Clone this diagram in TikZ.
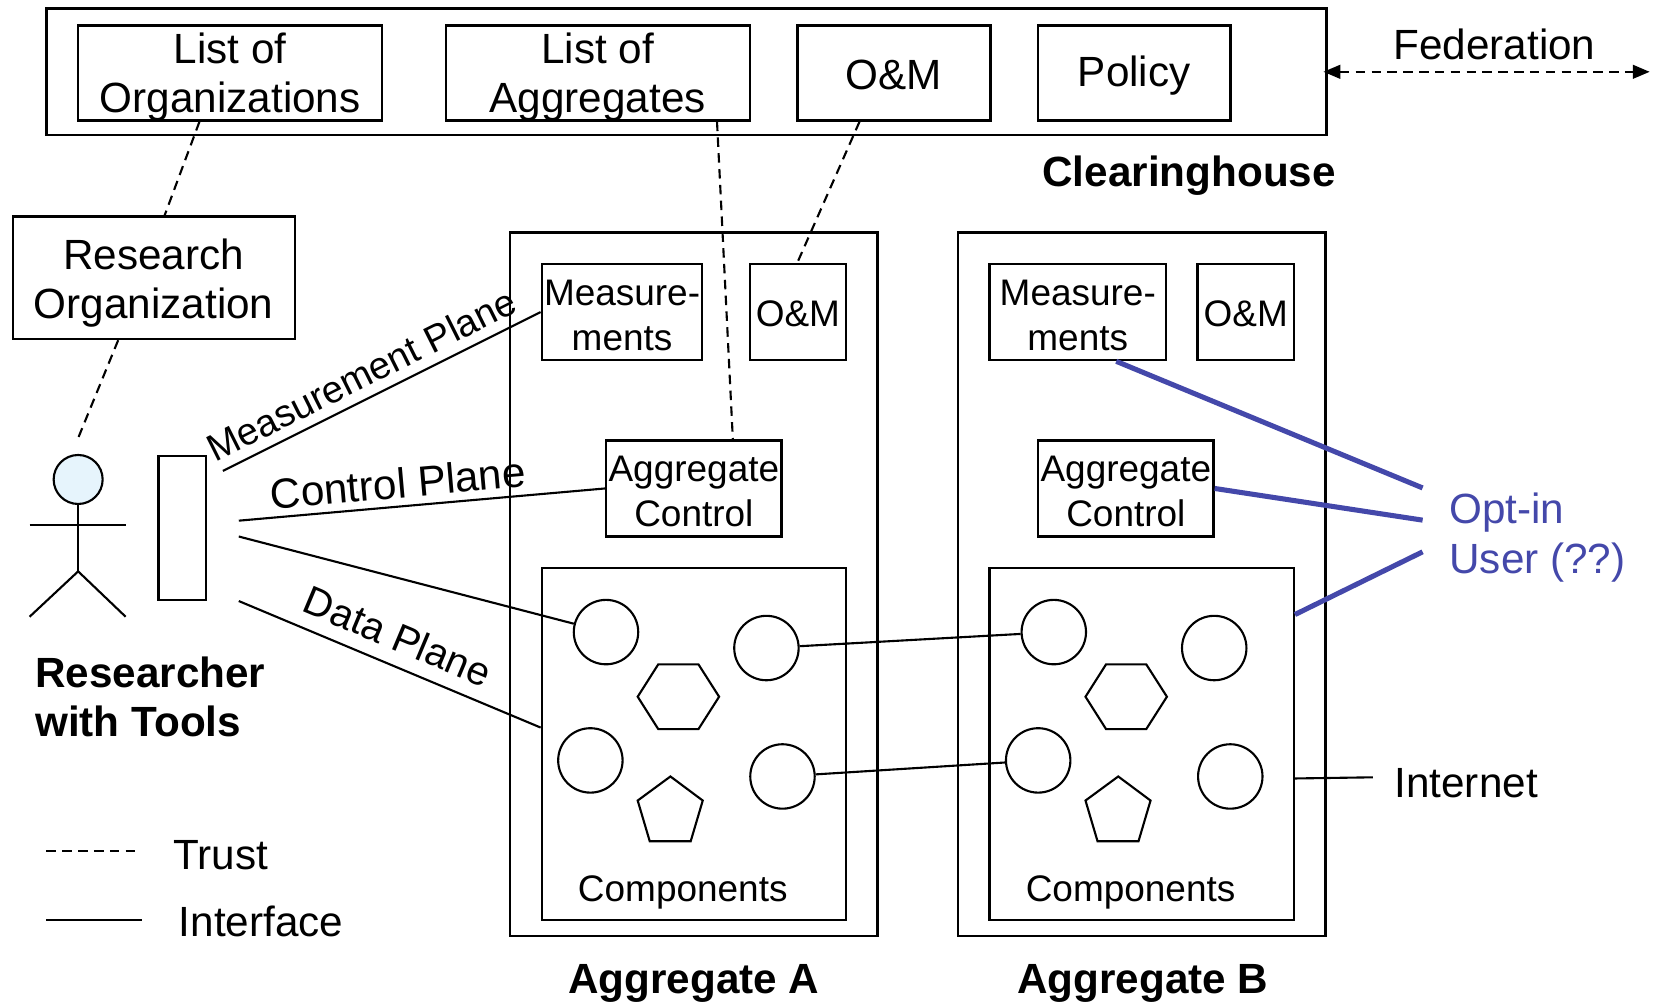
\documentclass[tikz,border=0pt]{standalone}
\usepackage{fontspec}
\setmainfont{Liberation Sans}
\usetikzlibrary{fit,calc,arrows.meta}
\definecolor{optblue}{RGB}{68,72,170}
\definecolor{headblue}{RGB}{230,244,252}
\begin{document}
\begin{tikzpicture}[x=0.5pt,y=-0.5pt,
  bigfont/.style={font=\fontsize{20}{23.5}\selectfont},
  smallfont/.style={font=\fontsize{17.5}{21.5}\selectfont},
  boldlabel/.style={font=\fontsize{20}{23.5}\selectfont\bfseries},
  planefont/.style={font=\fontsize{18}{22}\selectfont},
  box/.style={draw, line width=1.1pt, inner sep=0pt},
  txt/.style={inner sep=0pt, align=center},
  trust/.style={line width=1pt, dash pattern=on 4.5pt off 3pt},
  iface/.style={line width=1pt},
  optline/.style={line width=2.4pt, draw=optblue},
  comp/.style={circle, draw, line width=1pt, minimum size=30.5pt, inner sep=0pt},
  shapeline/.style={line width=1pt, line join=miter},
  fedarrow/.style={line width=1pt, dash pattern=on 4.5pt off 3pt, <->,
     >={Stealth[length=8pt,width=6.5pt,inset=0pt]}}
]
\useasboundingbox (0,0) rectangle (1568,952);

% Clearinghouse
\node[box,fit={(44,8) (1256,128)}] (clear) {};
\node[box,fit={(74,24) (362,114)}] (lorg) {};
\node[txt,bigfont] (lorgtxt) at ($(lorg.center)+(0,4)$) {List of\\Organizations};
\node[box,fit={(422,24) (710,114)}] (lagg) {};
\node[txt,bigfont] (laggtxt) at ($(lagg.center)+(0,4)$) {List of\\Aggregates};
\node[box,fit={(755,24) (938,114)}] (omtop) {};
\node[txt,bigfont] (omtoptxt) at ($(omtop.center)+(0,2)$) {O\&M};
\node[box,fit={(983,24) (1165,114)}] (policy) {};
\node[txt,bigfont] (policytxt) at ($(policy.center)+(0,3)$) {Policy};
\node[boldlabel] (clearlbl) at (1126,166) {Clearinghouse};

% Federation
\coordinate (fedend) at (1562,68);
\draw[fedarrow] ($(clear.east)+(-4,0)$) -- (fedend);
\node[bigfont] (fedlbl) at (1415,42) {Federation};

% Research organization
\node[box,fit={(12,205) (279,321)}] (resorg) {};
\node[txt,bigfont] (resorgtxt) at ($(resorg.center)+(0,5)$) {Research\\Organization};

% Researcher
\node[circle, draw, fill=headblue, line width=1pt, minimum size=23.2pt, inner sep=0pt] (head) at (74,454) {};
\coordinate (hip) at (74,541);
\draw[iface] (head.south) -- (hip);
\draw[iface] (28,497) -- (119,497);
\draw[iface] (28,584) -- (hip) -- (119,584);
\node[box,fit={(150,432) (195,568)}] (tools) {};
\node[boldlabel, anchor=west, align=left, inner sep=0pt] (reslbl) at (33,660) {Researcher\\with Tools};

% Aggregate A
\node[box,fit={(483,220) (831,886)}] (aggA) {};
\node[box,fit={(513,250) (665,341)}] (measA) {};
\node[txt,smallfont] (measAtxt) at ($(measA.center)+(0,3)$) {Measure-\\ments};
\node[box,fit={(710,250) (801,341)}] (omA) {};
\node[txt,smallfont] (omAtxt) at ($(omA.center)+(0,2)$) {O\&M};
\node[box,fit={(574,417) (740,508)}] (actlA) {};
\node[txt,smallfont] (actlAtxt) at ($(actlA.center)+(0,3)$) {Aggregate\\Control};
\node[box,fit={(513,538) (801,871)}] (compA) {};
\node[smallfont] (compAlbl) at ($(compA.south)+(-10.5,-27)$) {Components};
\node[boldlabel] (aggAlbl) at (657,931) {Aggregate A};

% Aggregate B
\node[box,fit={(907,220) (1255,886)}] (aggB) {};
\node[box,fit={(937,250) (1104,341)}] (measB) {};
\node[txt,smallfont] (measBtxt) at ($(measB.center)+(0,3)$) {Measure-\\ments};
\node[box,fit={(1134,250) (1225,341)}] (omB) {};
\node[txt,smallfont] (omBtxt) at ($(omB.center)+(0,2)$) {O\&M};
\node[box,fit={(983,417) (1149,508)}] (actlB) {};
\node[txt,smallfont] (actlBtxt) at ($(actlB.center)+(0,3)$) {Aggregate\\Control};
\node[box,fit={(937,538) (1225,871)}] (compB) {};
\node[smallfont] (compBlbl) at ($(compB.south)+(-10.5,-27)$) {Components};
\node[boldlabel] (aggBlbl) at (1082,931) {Aggregate B};

% components
\node[comp] (cA1) at (573.8,598.5) {};
\node[comp] (cA2) at (725.7,613.6) {};
\node[comp] (cA3) at (559,720) {};
\node[comp] (cA4) at (740.9,735.2) {};
\node[comp] (cB1) at (997.8,598.5) {};
\node[comp] (cB2) at (1149.7,613.6) {};
\node[comp] (cB3) at (983,720) {};
\node[comp] (cB4) at (1164.9,735.2) {};
\foreach \dx in {0,424} {
  \draw[shapeline] (603.8+\dx,659.7) -- (623.3+\dx,629) -- (661.3+\dx,629)
     -- (680.9+\dx,659.7) -- (661.3+\dx,690.4) -- (623.3+\dx,690.4) -- cycle;
  \draw[shapeline] (634.8+\dx,735.2) -- (665.4+\dx,758) -- (654+\dx,796.5)
     -- (615.2+\dx,796.5) -- (603.8+\dx,758) -- cycle;
}

% Trust connectors
\draw[trust] ($(lorg.south west)+(116,0)$) -- ($(resorg.north west)+(145,0)$);
\draw[trust] ($(resorg.south west)+(101,0)$) -- ($(head.north)+(0,-15)$);
\draw[trust] ($(lagg.south west)+(258,0)$) -- ($(actlA.north west)+(121,0)$);
\draw[trust] ($(omtop.south west)+(60,0)$) -- ($(omA.north west)+(46,0)$);

% Interfaces from researcher tools
\draw[iface] ($(tools.north east)+(15,15)$) -- node[pos=0.47, sloped, above=1pt, planefont] {Measurement Plane} (measA.west);
\draw[iface] ($(tools.east)+(30,-7)$) -- node[pos=0.44, sloped, above, bigfont] {Control Plane} (actlA.west);
\draw[iface] ($(tools.east)+(30,8)$) -- (cA1);
\draw[iface] ($(tools.south east)+(30,0)$) -- node[pos=0.49, sloped, above=3pt, font=\fontsize{19}{22}\selectfont] {Data Plane} ($(compA.north west)+(0,152)$);

% Inter-aggregate links
\draw[iface] (cA2) -- (cB1);
\draw[iface] (cA4) -- (cB3);

% Internet
\node[bigfont, anchor=west, inner sep=0pt] (inet) at (1320,742) {Internet};
\draw[iface] ($(compB.south east)+(0,-135)$) -- ($(inet.west)+(-20,-6)$);

% Opt-in user
\node[bigfont, text=optblue, anchor=west, align=left, inner sep=0pt] (opt) at (1372,509) {Opt-in\\User (??)};
\draw[optline] ($(measB.south west)+(121,0)$) -- ($(opt.west)+(-25,-47)$);
\draw[optline] (actlB.east) -- ($(opt.west)+(-25,-16.5)$);
\draw[optline] ($(compB.north east)+(0,45)$) -- ($(opt.west)+(-25,13.5)$);

% Legend
\coordinate (tr1) at (44,806);
\coordinate (tr2) at (134,806);
\draw[trust] (tr1) -- (tr2);
\node[bigfont, anchor=west, inner sep=0pt] (trustlbl) at (164,810) {Trust};
\coordinate (if1) at (44,871);
\coordinate (if2) at (134,871);
\draw[iface] (if1) -- (if2);
\node[bigfont, anchor=west, inner sep=0pt] (ifacelbl) at (169,872) {Interface};
\end{tikzpicture}
\end{document}
